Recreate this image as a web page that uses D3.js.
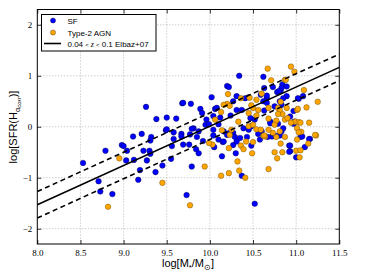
<!DOCTYPE html>
<html>
<head>
<meta charset="utf-8">
<script src="https://cdn.jsdelivr.net/npm/d3@7"></script>
<style>
body { margin: 0; background: #fff; }
</style>
</head>
<body>
<script>
// star forming galaxies (log M*, log SFR)
var sfPoints = [
	[8.53,-0.71],[8.71,-1.07],[8.73,-1.27],[8.79,-0.47],[8.87,-1.32],[8.98,-0.36],[9.00,-0.38],[9.04,-0.47],
	[9.03,-0.66],[9.12,-0.65],[9.11,-0.19],[9.21,-0.14],[9.32,-0.20],[9.31,-0.27],[9.23,-0.47],[9.30,-0.47],
	[9.31,-0.53],[9.27,-0.66],[9.19,-0.85],[9.17,-1.04],[9.37,-0.89],[9.45,-0.76],[9.55,-0.63],[9.26,0.39],
	[9.38,0.15],[9.50,0.18],[9.61,0.16],[9.68,0.46],[9.49,-0.07],[9.58,-0.11],[9.58,-0.24],[9.67,-0.14],
	[9.69,-0.35],[9.56,-0.38],[9.76,-0.35],[9.73,-1.34],[9.79,-0.78],[10.52,-1.51],[10.14,-0.58],[10.37,-0.96],
	[10.30,-0.52],[10.15,-0.30],[9.84,-0.44],[9.87,-0.52],[11.00,-0.60],[10.93,-0.48],[11.16,-0.24],[10.92,-0.37],
	[10.34,1.00],[10.62,0.98],[10.20,0.80],[10.22,0.78],[10.02,0.58],[9.69,0.47],[9.78,0.45],[10.31,0.60],
	[10.27,0.50],[10.41,0.56],[10.63,0.76],[10.73,0.78],[10.78,0.68],[10.84,0.83],[10.89,0.79],[10.82,0.70],
	[10.66,0.56],[10.66,0.61],[10.62,0.50],[10.89,0.60],[10.81,0.50],[11.03,0.55],[11.08,0.60],[10.97,0.31],
	[9.89,0.35],[9.91,0.27],[10.06,0.35],[9.96,0.14],[10.04,0.21],[10.12,0.18],[10.24,0.22],[10.31,0.33],
	[10.37,0.33],[10.47,0.17],[10.52,0.14],[10.63,0.32],[10.66,0.47],[10.75,0.40],[10.83,-0.09],[10.93,0.20],
	[10.70,0.10],[9.81,-0.03],[9.87,-0.09],[10.04,-0.06],[10.16,-0.09],[10.27,-0.12],[10.39,-0.03],[10.48,0.01],
	[10.60,-0.09],[10.72,-0.19],[9.67,-0.19],[9.95,0.04],[9.79,-0.04],[9.50,-0.05],[10.08,0.37],[10.45,0.58],
	[10.59,0.63],[9.77,-0.15],[9.85,-0.20],[10.04,-0.17],[10.20,-0.16],[10.29,-0.20],[10.43,-0.20],[10.56,-0.14],
	[10.67,-0.20],[10.81,-0.17],[10.35,-0.22],[10.10,-0.25],[9.92,-0.28],[10.05,-0.40],[10.27,-0.36],[10.48,-0.37],
	[10.58,-0.25],[11.05,-0.20],[11.10,-0.40],[10.31,-0.29],[10.16,-0.29],[10.23,-0.12],[10.45,-0.06],[10.70,0.07],
	[10.77,-0.18],[10.79,0.06],[10.97,0.06],[10.85,-0.03],[11.07,-0.19],[11.15,-0.24],[10.93,-0.37],[10.92,-0.49],
	[10.83,0.76],[10.80,0.70],[10.85,0.56],[11.02,0.56],[10.83,0.43],[10.98,0.10],[9.99,0.05],[10.10,0.05]
];

// type-2 AGN hosts
var agnPoints = [
	[8.95,-0.62],[9.45,-1.10],[8.82,-1.57],[9.77,-1.54],[9.94,-0.78],[10.13,-0.96],[10.22,-0.91],[10.34,-0.86],
	[10.41,-1.00],[10.32,-0.68],[10.68,-0.83],[10.49,-0.52],[10.36,-0.37],[10.39,-0.44],[10.50,-0.30],[10.22,-0.42],
	[10.75,-0.50],[10.78,-0.62],[10.84,-0.50],[10.82,-0.33],[10.77,-0.20],[11.01,-0.25],[11.00,-0.47],[11.05,-0.46],
	[11.04,-0.60],[11.14,-0.33],[11.23,-0.17],[11.06,-0.10],[10.87,-0.20],[10.64,-0.19],[10.03,-0.35],[9.99,-0.32],
	[10.67,1.14],[10.94,1.18],[10.98,1.08],[10.71,0.91],[10.87,0.92],[11.09,0.72],[11.25,0.49],[11.12,0.38],
	[11.01,0.33],[10.21,0.64],[10.36,0.56],[10.46,0.57],[10.60,0.65],[10.54,0.53],[10.82,0.49],[10.79,0.37],
	[10.50,0.37],[10.56,0.33],[10.68,0.37],[10.48,0.42],[10.20,0.45],[10.23,0.41],[10.13,0.29],[10.45,0.27],
	[10.54,0.22],[10.68,0.16],[10.77,0.12],[10.87,0.14],[10.99,0.10],[11.03,0.09],[11.15,0.08],[11.01,-0.03],
	[11.03,-0.11],[11.22,-0.16],[10.81,-0.09],[10.73,-0.12],[10.62,-0.18],[10.54,-0.05],[10.45,0.01],[10.33,0.10],
	[10.25,-0.06],[10.14,-0.07],[10.06,0.14],[10.23,-0.16],[10.84,0.25],[10.90,0.17],[10.94,0.08],[10.81,0.33],
	[10.16,0.43],[10.42,-0.29],[10.59,-0.06],[10.63,-0.17],[10.68,-0.06],[10.75,0.04],[10.50,0.04],[10.89,0.37],
	[10.79,0.25],[11.05,0.08],[11.02,0.35],[10.88,0.92]
];

var elbazMass = [8.0, 11.5];
var elbazSfr = [-1.53, 1.165];
var elbazScatter = 0.26;

var xTicks = [8.0, 8.5, 9.0, 9.5, 10.0, 10.5, 11.0, 11.5];
var yTicks = [-2, -1, 0, 1, 2];

var W = 373, H = 272;
var plotL = 37.3, plotR = 339.3, plotT = 9.5, plotB = 244;

var svg = d3.select("body").append("svg")
	.attr("width", W)
	.attr("height", H)
	.style("display", "block");

var x = d3.scaleLinear().domain([8.0, 11.5]).range([plotL, plotR]);
var y = d3.scaleLinear().domain([-2.3, 2.3]).range([plotB, plotT]);

// grid
var grid = svg.append("g");
grid.selectAll("line.gx")
	.data(xTicks.slice(1, -1))
	.enter().append("line")
	.attr("x1", function (d) { return x(d); })
	.attr("x2", function (d) { return x(d); })
	.attr("y1", plotT).attr("y2", plotB)
	.style("stroke", "#999").style("stroke-width", 0.7).style("stroke-dasharray", "1,2");
grid.selectAll("line.gy")
	.data(yTicks)
	.enter().append("line")
	.attr("y1", function (d) { return y(d); })
	.attr("y2", function (d) { return y(d); })
	.attr("x1", plotL).attr("x2", plotR)
	.style("stroke", "#999").style("stroke-width", 0.7).style("stroke-dasharray", "1,2");

// points
var pts = svg.append("g");
pts.selectAll("circle.sf")
	.data(sfPoints)
	.enter().append("circle")
	.attr("cx", function (d) { return x(d[0]); })
	.attr("cy", function (d) { return y(d[1]); })
	.attr("r", 2.8)
	.style("fill", "#0000ff")
	.style("stroke", "#000033").style("stroke-width", 0.4);
pts.selectAll("circle.agn")
	.data(agnPoints)
	.enter().append("circle")
	.attr("cx", function (d) { return x(d[0]); })
	.attr("cy", function (d) { return y(d[1]); })
	.attr("r", 2.8)
	.style("fill", "#ffa500")
	.style("stroke", "#5a4000").style("stroke-width", 0.4);

// relation lines
var line = d3.line()
	.x(function (d) { return x(d[0]); })
	.y(function (d) { return y(d[1]); });
var offsets = [0, elbazScatter, -elbazScatter];
offsets.forEach(function (off) {
	var pts2 = elbazMass.map(function (m, i) { return [m, elbazSfr[i] + off]; });
	svg.append("path")
		.attr("d", line(pts2))
		.style("fill", "none")
		.style("stroke", "#000")
		.style("stroke-width", 1.6)
		.style("stroke-dasharray", off == 0 ? null : "5,3.5");
});

// frame
svg.append("rect")
	.attr("x", plotL).attr("y", plotT)
	.attr("width", plotR - plotL).attr("height", plotB - plotT)
	.style("fill", "none").style("stroke", "#000").style("stroke-width", 1);

// axes with inward ticks, labels only bottom/left
var axB = d3.axisBottom(x).tickValues(xTicks).tickSize(-4).tickPadding(6).tickFormat(d3.format(".1f"));
var axT = d3.axisTop(x).tickValues(xTicks).tickSize(-4).tickFormat("");
var axL = d3.axisLeft(y).tickValues(yTicks).tickSize(-4).tickPadding(5).tickFormat(d3.format("d"));
var axR = d3.axisRight(y).tickValues(yTicks).tickSize(-4).tickFormat("");

[[axB, "translate(0," + plotB + ")"], [axT, "translate(0," + plotT + ")"],
 [axL, "translate(" + plotL + ",0)"], [axR, "translate(" + plotR + ",0)"]].forEach(function (a) {
	var g = svg.append("g").attr("transform", a[1]).call(a[0]);
	g.select(".domain").remove();
	g.selectAll(".tick line").style("stroke", "#000").style("stroke-width", 0.8);
	g.selectAll(".tick text")
		.style("font-family", "'Liberation Serif', serif")
		.style("font-size", "9px")
		.style("fill", "#000");
});

// axis titles
var xl = svg.append("text")
	.attr("x", 188).attr("y", 267)
	.attr("text-anchor", "middle")
	.style("font-family", "'Liberation Sans', sans-serif")
	.style("font-size", "11px");
xl.append("tspan").text("log[M");
xl.append("tspan").attr("dy", 2.5).style("font-size", "7.5px").text("*");
xl.append("tspan").attr("dy", -2.5).text("/M");
xl.append("tspan").attr("dy", 2.5).style("font-size", "7.5px").text("\u2299");
xl.append("tspan").attr("dy", -2.5).text("]");

var yl = svg.append("text")
	.attr("transform", "translate(17,127) rotate(-90)")
	.attr("text-anchor", "middle")
	.style("font-family", "'Liberation Sans', sans-serif")
	.style("font-size", "11px");
yl.append("tspan").text("log[SFR(H");
yl.append("tspan").attr("dy", 2.5).style("font-size", "7.5px").text("\u03b1");
yl.append("tspan").attr("dy", 1.5).style("font-size", "6px").style("font-style", "italic").text("corr");
yl.append("tspan").attr("dy", -4).text(")]");

// legend
var legendLabels = ["SF", "Type-2 AGN"];
var legendColors = ["#0000ff", "#ffa500"];
var legend = svg.append("g");
legend.append("rect")
	.attr("x", 41.5).attr("y", 14.5).attr("width", 114.5).attr("height", 36.5)
	.style("fill", "#fff").style("stroke", "#000").style("stroke-width", 1);
legendLabels.forEach(function (lab, i) {
	legend.append("circle")
		.attr("cx", 53).attr("cy", 20.5 + i * 12).attr("r", 2.6)
		.style("fill", legendColors[i]).style("stroke", "#333").style("stroke-width", 0.4);
	legend.append("text")
		.attr("x", 67.5).attr("y", 23.5 + i * 12)
		.style("font-family", "'Liberation Sans', sans-serif")
		.style("font-size", "8px")
		.text(lab);
});
legend.append("line")
	.attr("x1", 44).attr("x2", 61).attr("y1", 43.5).attr("y2", 43.5)
	.style("stroke", "#000").style("stroke-width", 1.6);
var lt = legend.append("text")
	.attr("x", 67.5).attr("y", 46.5)
	.style("font-family", "'Liberation Sans', sans-serif")
	.style("font-size", "8px");
lt.append("tspan").text("0.04 ");
lt.append("tspan").style("font-size", "6px").text("<");
lt.append("tspan").style("font-family", "'Liberation Serif', serif").style("font-style", "italic").text(" z ");
lt.append("tspan").style("font-size", "6px").text("<");
lt.append("tspan").text(" 0.1 Elbaz+07");
</script>
</body>
</html>
